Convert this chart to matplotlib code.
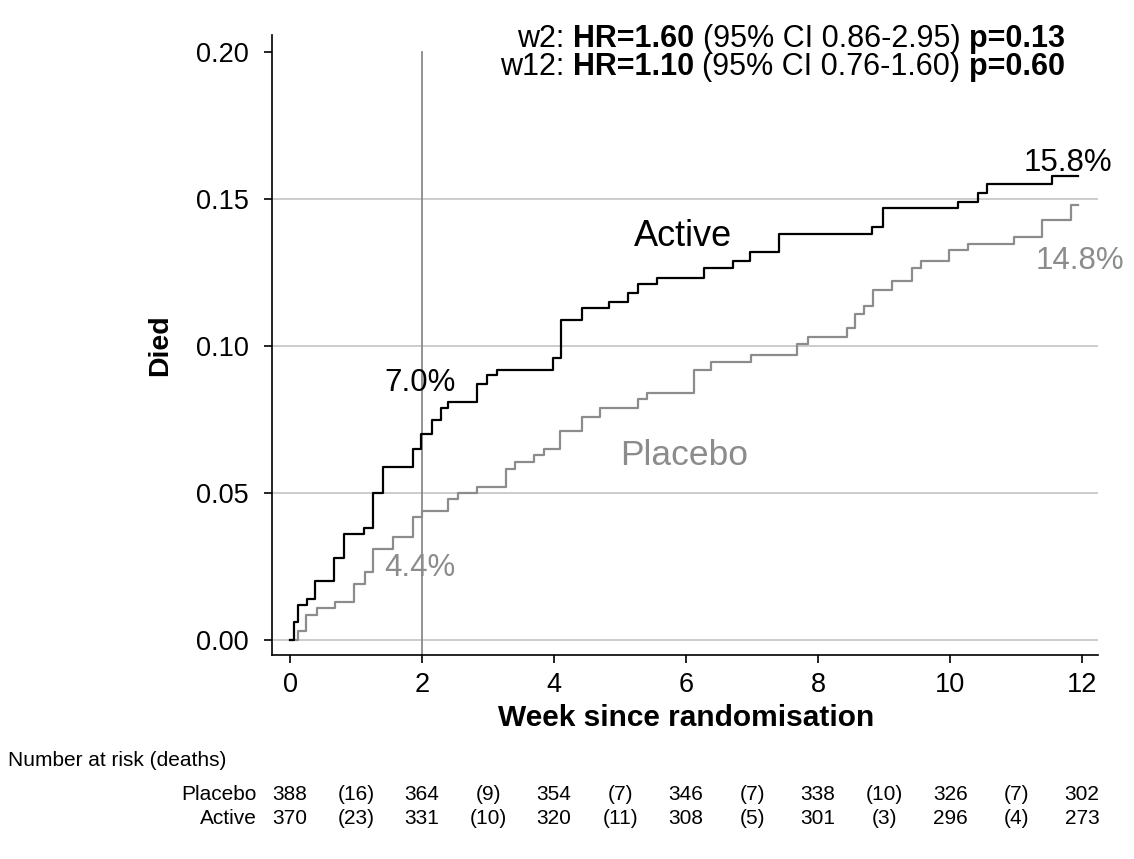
import matplotlib
matplotlib.use("Agg")
import matplotlib.pyplot as plt
import matplotlib.transforms as mtransforms

plt.rcParams['font.family'] = ['Liberation Sans', 'DejaVu Sans']

# ---------------- data ----------------
active_t = [0, 0.06, 0.12, 0.26, 0.38, 0.67, 0.82, 1.12, 1.26, 1.41, 1.86, 1.99, 2.15, 2.29,
            2.39, 2.83, 2.98, 3.14, 3.98, 4.11, 4.42, 4.83, 5.12, 5.27, 5.56, 6.27, 6.71,
            6.97, 7.41, 8.82, 8.98, 10.12, 10.42, 10.56, 11.55, 11.94]
active_v = [0, 0.006, 0.012, 0.014, 0.020, 0.028, 0.036, 0.038, 0.050, 0.059, 0.065, 0.070,
            0.075, 0.079, 0.081, 0.087, 0.090, 0.092, 0.096, 0.109, 0.113, 0.115, 0.118,
            0.121, 0.123, 0.1265, 0.129, 0.132, 0.138, 0.1405, 0.147, 0.149, 0.152, 0.155,
            0.158, 0.158]

placebo_t = [0, 0.12, 0.24, 0.41, 0.68, 0.97, 1.14, 1.26, 1.56, 1.86, 2.00, 2.39, 2.55, 2.83,
             3.27, 3.41, 3.70, 3.85, 4.09, 4.42, 4.70, 5.27, 5.41, 6.12, 6.38, 6.98, 7.68,
             7.85, 8.44, 8.56, 8.70, 8.83, 9.12, 9.42, 9.56, 9.98, 10.27, 10.97, 11.39,
             11.83, 11.94]
placebo_v = [0, 0.003, 0.0085, 0.011, 0.013, 0.019, 0.023, 0.031, 0.035, 0.042, 0.044, 0.048,
             0.050, 0.052, 0.058, 0.0605, 0.063, 0.065, 0.071, 0.076, 0.079, 0.082, 0.084,
             0.092, 0.0946, 0.097, 0.1007, 0.103, 0.106, 0.111, 0.1136, 0.119, 0.122,
             0.1265, 0.129, 0.1327, 0.1347, 0.137, 0.143, 0.148, 0.148]

x_ticks = [0, 2, 4, 6, 8, 10, 12]
y_ticks = [0.00, 0.05, 0.10, 0.15, 0.20]
y_tick_labels = ["0.00", "0.05", "0.10", "0.15", "0.20"]
grid_levels = [0.00, 0.05, 0.10, 0.15]
landmark_week = 2

risk_weeks = [0, 2, 4, 6, 8, 10, 12]
death_weeks = [1, 3, 5, 7, 9, 11]
placebo_risk = [388, 364, 354, 346, 338, 326, 302]
placebo_deaths = [16, 9, 7, 7, 10, 7]
active_risk = [370, 331, 320, 308, 301, 296, 273]
active_deaths = [23, 10, 11, 5, 3, 4]

hr_rows = [("w2", "1.60", "0.86-2.95", "0.13"),
           ("w12", "1.10", "0.76-1.60", "0.60")]

pct_labels = [("7.0%", 1.97, 0.0874, "black"), ("4.4%", 1.97, 0.0245, "gray"),
              ("15.8%", 11.78, 0.1622, "black"), ("14.8%", 11.97, 0.129, "gray")]

# ---------------- figure ----------------
W, H = 1134, 859
fig = plt.figure(figsize=(W / 100, H / 100), dpi=100)
BLACK = "#000000"
GRAY = "#8c8c8c"
cmap = {"black": BLACK, "gray": GRAY}

def fx(px):
    return px / W

def fy(py):
    return 1 - py / H

ax = fig.add_axes([fx(272), fy(655), fx(1098) - fx(272), fy(35) - fy(655)])
ax.set_xlim(-0.273, 12.24)
ax.set_ylim(-0.0051, 0.2058)

for g in grid_levels:
    ax.axhline(g, color="#c8c8c8", lw=1.3, zorder=1)
ax.plot([landmark_week, landmark_week], [-0.0051, 0.200], color="#8a8a8a", lw=1.3, zorder=2)

ax.step(placebo_t, placebo_v, where="post", color=GRAY, lw=1.6, zorder=3)
ax.step(active_t, active_v, where="post", color=BLACK, lw=1.6, zorder=4)

for s in ["top", "right"]:
    ax.spines[s].set_visible(False)
for s in ["left", "bottom"]:
    ax.spines[s].set_linewidth(1.2)

ax.set_xticks(x_ticks)
ax.set_xticklabels([str(t) for t in x_ticks])
ax.set_yticks(y_ticks)
ax.set_yticklabels(y_tick_labels)
ax.tick_params(axis="both", direction="out", length=6, width=1.2, labelsize=19.5)
ax.tick_params(axis="y", pad=11)
ax.tick_params(axis="x", pad=6)

fig.text(fx(686), fy(718), "Week since randomisation", ha="center", va="center",
         fontsize=21.5, fontweight="bold")
fig.text(fx(160), fy(345), "Died", ha="center", va="center", rotation=90,
         fontsize=20.5, fontweight="bold")

ax.text(5.95, 0.1374, "Active", ha="center", va="center", fontsize=26, color=BLACK)
ax.text(5.97, 0.0626, "Placebo", ha="center", va="center", fontsize=25.5, color=GRAY)
for s, x, y, c in pct_labels:
    ax.text(x, y, s, ha="center", va="center", fontsize=22.5, color=cmap[c])

# ---------------- header with mixed weights ----------------
renderer = fig.canvas.get_renderer()
HDR_FS = 22

def text_width(s, weight):
    t = fig.text(0, 0, s, fontsize=HDR_FS, fontweight=weight)
    w = t.get_window_extent(renderer).width
    t.remove()
    return w

space_w = text_width("a a", "normal") - text_width("aa", "normal")

def rich_line(pieces, right_px, base_px):
    widths = [text_width(s, w) for s, w in pieces]
    total = sum(widths) + space_w * (len(pieces) - 1)
    x = right_px - total
    for (s, w), wd in zip(pieces, widths):
        fig.text(fx(x), fy(base_px), s, fontsize=HDR_FS, fontweight=w,
                 ha="left", va="baseline")
        x += wd + space_w

for (lab, hr, ci, p), base in zip(hr_rows, [47, 75]):
    rich_line([(lab + ":", "normal"), ("HR=" + hr, "bold"),
               ("(95% CI " + ci + ")", "normal"), ("p=" + p, "bold")], 1065, base)

# ---------------- risk table ----------------
trans = mtransforms.blended_transform_factory(ax.transData, fig.transFigure)
RT_FS = 15
fig.text(fx(8), fy(761), "Number at risk (deaths)", ha="left", va="center", fontsize=RT_FS)
for name, risk, deaths, py in [("Placebo", placebo_risk, placebo_deaths, 795),
                               ("Active", active_risk, active_deaths, 818)]:
    fig.text(fx(257), fy(py), name, ha="right", va="center", fontsize=RT_FS)
    for wk, n in zip(risk_weeks, risk):
        ax.text(wk, fy(py), str(n), transform=trans, ha="center", va="center",
                fontsize=RT_FS, clip_on=False)
    for wk, d in zip(death_weeks, deaths):
        ax.text(wk, fy(py), "(%d)" % d, transform=trans, ha="center", va="center",
                fontsize=RT_FS, clip_on=False)

fig.savefig("out.png", dpi=100)
